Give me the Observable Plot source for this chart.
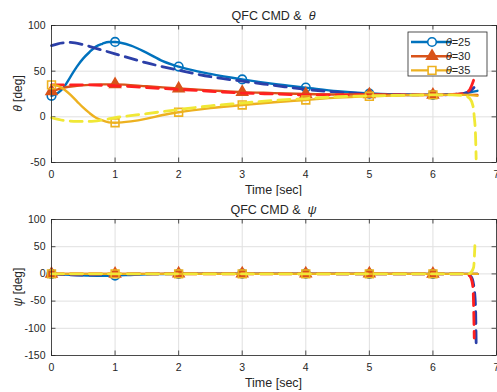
<!DOCTYPE html>
<html>
<head>
<meta charset="utf-8">
<script src="https://cdn.jsdelivr.net/npm/d3@7"></script>
<script src="https://cdn.jsdelivr.net/npm/@observablehq/plot@0.6"></script>
<style>
  body { margin: 0; background: #fff; }
  #chart { position: relative; width: 497px; height: 392px; overflow: hidden; background: #fff; }
  #chart svg { position: absolute; left: 0; overflow: hidden; }
</style>
</head>
<body>
<div id="chart"></div>
<script>
// ---- axis ticks ----
const xTicks = [0, 1, 2, 3, 4, 5, 6, 7];
const thetaTicks = [-50, 0, 50, 100];
const psiTicks = [-150, -100, -50, 0, 50, 100];
const caseValues = [25, 30, 35];

// ---- pitch angle theta [deg]: response (solid) and QFC command (dashed) ----
const thetaT25 = [0, 0.1, 0.2, 0.3, 0.4, 0.5, 0.6, 0.7, 0.8, 0.9, 1, 1.25, 1.5, 1.75, 2, 2.5, 3, 3.5, 4, 4.5, 5, 5.5, 6, 6.3, 6.5, 6.7];
const theta25  = [23, 26, 33, 44, 55, 64, 71, 77, 80, 82, 82, 78, 70, 61, 55, 47, 41, 36, 32, 28, 25.5, 24.5, 24, 24.5, 26, 28.5];
const cmdT25   = [0, 0.1, 0.2, 0.3, 0.5, 0.7, 1, 1.5, 2, 2.5, 3, 3.5, 4, 4.5, 5, 5.5, 6, 6.3, 6.5, 6.6, 6.66];
const cmd25    = [78, 80, 81, 81.5, 79, 75, 69, 59, 51, 44, 39, 34.5, 30, 27, 25, 24, 24, 24.5, 26, 29, 33];

const thetaT30 = [0, 0.1, 0.2, 0.4, 0.6, 0.8, 1, 1.5, 2, 2.5, 3, 3.5, 4, 4.5, 5, 5.5, 6, 6.3, 6.5, 6.7];
const theta30  = [28, 30, 32, 34, 35, 35.5, 35.5, 33.5, 31, 29, 27, 26, 25, 24.5, 24.5, 24, 24, 24, 24, 24];
const cmdT30   = [0, 0.5, 1, 1.5, 2, 2.5, 3, 3.5, 4, 5, 6, 6.3, 6.5, 6.58, 6.64];
const cmd30    = [35, 35, 34, 32, 30, 28, 26, 25, 24, 24, 24, 24.5, 26, 30, 40];

const thetaT35 = [0, 0.1, 0.2, 0.3, 0.4, 0.5, 0.6, 0.7, 0.8, 0.9, 1, 1.25, 1.5, 1.75, 2, 2.5, 3, 3.5, 4, 4.5, 5, 5.5, 6, 6.3, 6.5, 6.7];
const theta35  = [35, 34, 30, 24, 17, 10, 4, -1, -4, -6, -6.5, -5, -2, 2, 5, 9.5, 13, 16, 18.5, 21, 22.5, 23.5, 24, 24, 24, 23];
const cmdT35   = [0, 0.2, 0.4, 0.6, 0.8, 1, 1.5, 2, 2.5, 3, 3.5, 4, 4.5, 5, 5.5, 6, 6.3, 6.5, 6.58, 6.63, 6.65, 6.67, 6.68];
const cmd35    = [-1, -4, -5, -5, -3.5, -1, 3.5, 8, 12, 15, 18, 20, 22, 23, 23.5, 24, 24, 23, 20, 12, 0, -20, -46];

// ---- heading angle psi [deg] ----
const psiT     = [0, 0.2, 0.4, 0.6, 0.8, 1, 1.3, 1.6, 2, 3, 4, 5, 6, 6.5, 6.7];
const psi25    = [0, -1, -2, -3, -3.5, -3, -1.5, -0.5, 0, 0.5, 0.5, 0, 0, 0, 0];
const psi30    = [0, 0, 0, 0, 0, 0, 0, 0, 0.5, 0.5, 0.5, 0.5, 0, 0, 0];
const psi35    = [0, 0, 0, 0, 0, 0, 0, 0, 0, 0, 0, 0, 0, 0, 0];
const psiCmdT25 = [0, 0.2, 0.4, 0.6, 0.8, 1, 1.5, 2, 3, 4, 5, 6, 6.5, 6.6, 6.64, 6.67, 6.68];
const psiCmd25  = [0, -1.5, -2, -2, -1.5, -1, 0, 0.5, 0.5, 0.5, 0, 0, 0, -5, -20, -60, -127];
const psiCmdT30 = [0, 1, 2, 3, 4, 5, 6, 6.5, 6.56, 6.6, 6.63, 6.65];
const psiCmd30  = [0, 0, 0, 0, 0, 0, 0, 0, -2, -8, -25, -118];
const psiCmdT35 = [0, 1, 2, 3, 4, 5, 6, 6.55, 6.6, 6.64, 6.66];
const psiCmd35  = [0, 0, 0, 0, 0, 0, 0, 0, 3, 12, 52];

// ---- styling ----
const FONT = "'Liberation Sans', Arial, Helvetica, sans-serif";
const INK = "#262626";
const GRID = "#e0e0e0";
const solidColors  = ["#0072BD", "#D95319", "#EDB120"];
const dashedColors = ["#2C3FA8", "#FF2020", "#F0E836"];
const symbols = ["circle", "triangle", "square"];
const markerFill = ["none", "#D95319", "none"];
const markerR = [4.3, 4, 4.4];

const rows = (t, v) => t.map((ti, i) => ({t: ti, v: v[i]}));

function caseMarks(i, t, v, cT, c) {
  const solid = rows(t, v);
  return [
    Plot.line(solid, {x: "t", y: "v", stroke: solidColors[i], strokeWidth: 2.4, curve: "monotone-x"}),
    Plot.dot(solid.filter(d => Number.isInteger(d.t) && d.t <= 6), {
      x: "t", y: "v", symbol: symbols[i], r: markerR[i],
      stroke: solidColors[i], fill: markerFill[i], strokeWidth: 1.6
    }),
    Plot.line(rows(cT, c), {x: "t", y: "v", stroke: dashedColors[i], strokeWidth: 2.8,
      strokeDasharray: "12,7", curve: "monotone-x"})
  ];
}

function panel({top, height, marginTop, marginBottom, yDomain, yTicks, cases}) {
  const [y0, y1] = yDomain;
  const ky = (y1 - y0) / (height - marginTop - marginBottom); // data units per pixel
  const plt = Plot.plot({
    width: 497, height, marginTop, marginBottom, marginLeft: 51, marginRight: 1,
    style: {fontFamily: FONT, fontSize: "10.5px", color: INK, background: "transparent"},
    x: {domain: [0, 7]},
    y: {domain: yDomain},
    marks: [
      Plot.gridX(xTicks, {stroke: GRID, strokeOpacity: 1}),
      Plot.gridY(yTicks, {stroke: GRID, strokeOpacity: 1}),
      Plot.axisX({ticks: xTicks, tickSize: 0, tickPadding: 8, label: null, tickFormat: d => String(d)}),
      Plot.axisY({ticks: yTicks, tickSize: 0, tickPadding: 6, label: null, tickFormat: d => String(d)}),
      // inward tick marks on all four sides
      Plot.ruleY(yTicks, {x1: 0, x2: 0.07, stroke: INK, strokeWidth: 0.8}),
      Plot.ruleY(yTicks, {x1: 6.93, x2: 7, stroke: INK, strokeWidth: 0.8}),
      Plot.ruleX(xTicks, {y1: y0, y2: y0 + 4.5 * ky, stroke: INK, strokeWidth: 0.8}),
      Plot.ruleX(xTicks, {y1: y1, y2: y1 - 4.5 * ky, stroke: INK, strokeWidth: 0.8}),
      ...cases.flatMap((c, i) => caseMarks(i, ...c)),
      Plot.frame({stroke: INK, strokeWidth: 0.8})
    ]
  });
  plt.style.top = top + "px";
  document.getElementById("chart").appendChild(plt);
  return plt;
}

function addText(svg, x, y, parts, {size = 12.5, rotate = 0, anchor = "middle"} = {}) {
  const t = d3.select(svg).append("text")
    .attr("transform", `translate(${x},${y}) rotate(${rotate})`)
    .attr("text-anchor", anchor)
    .attr("font-family", FONT)
    .attr("font-size", size)
    .attr("fill", INK);
  for (const [s, italic] of parts) {
    t.append("tspan").attr("font-style", italic ? "italic" : null).text(s);
  }
  return t;
}

function decorate(plt, symbolName) {
  const sx = plt.scale("x"), sy = plt.scale("y");
  const [xl, xr] = sx.range;
  const [yb, yt] = sy.range;
  const cx = (xl + xr) / 2, cy = (yb + yt) / 2;
  addText(plt, cx, yt - 5, [["QFC CMD &  ", false], [symbolName, true]], {size: 12.5});
  addText(plt, cx, yb + 31.5, [["Time [sec]", false]], {size: 12.5});
  addText(plt, 22, cy, [[symbolName, true], [" [deg]", false]], {size: 12, rotate: -90});
}

const thetaPlot = panel({
  top: 0, height: 196, marginTop: 25, marginBottom: 34,
  yDomain: [-50, 100], yTicks: thetaTicks,
  cases: [
    [thetaT25, theta25, cmdT25, cmd25],
    [thetaT30, theta30, cmdT30, cmd30],
    [thetaT35, theta35, cmdT35, cmd35]
  ]
});
decorate(thetaPlot, "\u03B8");

const psiPlot = panel({
  top: 196, height: 196, marginTop: 23, marginBottom: 37,
  yDomain: [-150, 100], yTicks: psiTicks,
  cases: [
    [psiT, psi25, psiCmdT25, psiCmd25],
    [psiT, psi30, psiCmdT30, psiCmd30],
    [psiT, psi35, psiCmdT35, psiCmd35]
  ]
});
decorate(psiPlot, "\u03C8");

// ---- legend for the response curves ----
{
  const g = d3.select(thetaPlot).append("g").attr("transform", "translate(408,32)");
  g.append("rect").attr("width", 79).attr("height", 44)
    .attr("fill", "#fff").attr("stroke", INK).attr("stroke-width", 0.8);
  const symTypes = [d3.symbolCircle, d3.symbolTriangle, d3.symbolSquare];
  caseValues.forEach((val, i) => {
    const y = 10 + i * 14.2;
    g.append("line").attr("x1", 3).attr("x2", 44).attr("y1", y).attr("y2", y)
      .attr("stroke", solidColors[i]).attr("stroke-width", 2.4);
    g.append("path")
      .attr("transform", `translate(24,${y})`)
      .attr("d", d3.symbol(symTypes[i], Math.PI * markerR[i] * markerR[i])())
      .attr("stroke", solidColors[i]).attr("stroke-width", 1.6)
      .attr("fill", markerFill[i] === "none" ? "#fff" : markerFill[i]);
    const t = g.append("text").attr("x", 50).attr("y", y + 4)
      .attr("font-family", FONT).attr("font-size", 11).attr("fill", INK);
    t.append("tspan").attr("font-style", "italic").text("\u03B8");
    t.append("tspan").text("=" + val);
  });
}
</script>
</body>
</html>
